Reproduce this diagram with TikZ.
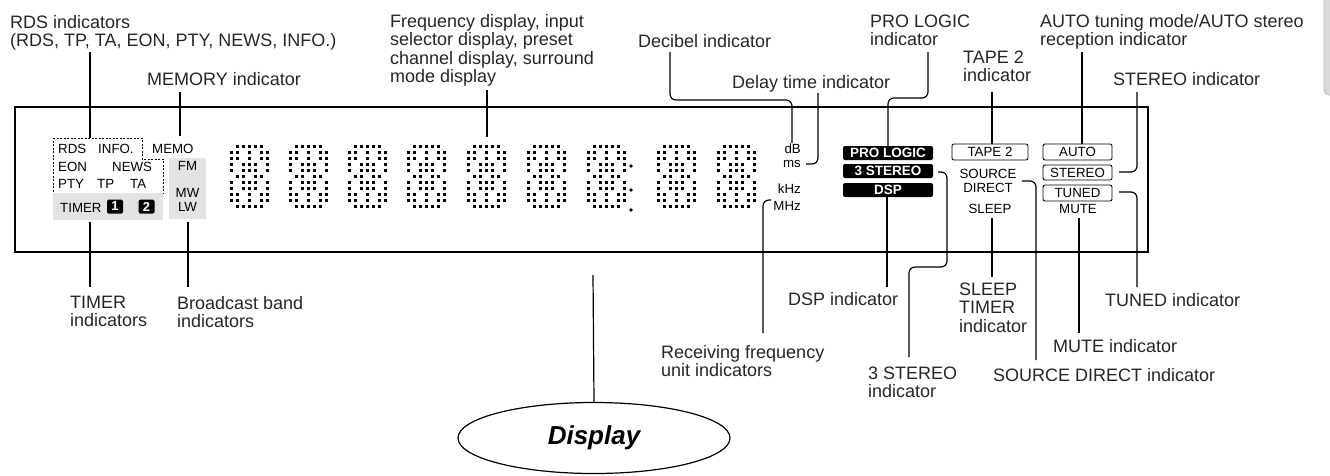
\documentclass[tikz,border=0pt]{standalone}
\usepackage{fontspec}
\setmainfont{Liberation Sans}
\usetikzlibrary{shapes.geometric}
\begin{document}
\begin{tikzpicture}[x=1pt,y=-1pt,
  lbl/.style={anchor=base west, inner sep=0pt, align=left, font=\fontsize{18}{18.5}\selectfont, text=black!85},
  sm/.style={inner sep=0pt, font=\fontsize{13.3}{14}\selectfont},
  badge/.style={fill=black, text=white, rounded corners=2pt, minimum width=90pt, minimum height=14pt, inner sep=0pt, font=\fontsize{13.5}{14}\selectfont\bfseries},
  obox/.style={draw, rounded corners=2pt, line width=0.9pt, minimum width=69pt, minimum height=16pt, inner sep=0pt, font=\fontsize{13.3}{14}\selectfont},
  numbox/.style={fill=black, text=white, rounded corners=1.5pt, minimum width=16pt, minimum height=14pt, inner sep=0pt, font=\fontsize{13}{13}\selectfont\bfseries},
  lead/.style={line width=1.2pt, rounded corners=6pt},
  dmd/.pic={
    \foreach \r/\cl in {0/{1,2,3,4,5},1/{0,1,3,5,6},2/{0,1,3,5,6},3/{0,2,3,4,6},4/{0,2,3,4,6},5/{1,2,4,5},6/{0,2,3,4,6},7/{0,2,3,4,6},8/{0,1,3,5,6},9/{0,1,3,5,6},10/{1,2,3,4,5}}
      {\foreach \c in \cl {\fill (\c*6-0.3,\r*6-0.3) rectangle ++(3.5,3.5);}}
  }]
\useasboundingbox (0,0) rectangle (1330,475);
% side tab
\filldraw[fill=gray!30, draw=gray!55, line width=0.8pt, rounded corners=5pt] (1324,-10) rectangle (1345,95);

% display frame
\draw[line width=1.2pt] (15,107) rectangle (1148,252);

% RDS block
\draw[dashed, dash pattern=on 2pt off 1.5pt, line width=0.8pt] (53,138) -- (142,138) -- (142,159) -- (163,159) -- (163,193) -- (53,193) -- cycle;
\node[sm, anchor=base west] (rds) at (58,153) {RDS};
\node[sm, anchor=base west] (info) at (98,153) {INFO.};
\node[sm, anchor=base west] (memo) at (152,153) {MEMO};
\node[sm, anchor=base west] (eon) at (58,171) {EON};
\node[sm, anchor=base west] (news) at (112,171) {NEWS};
\node[sm, anchor=base west] (pty) at (58,188) {PTY};
\node[sm, anchor=base west] (tp) at (97,188) {TP};
\node[sm, anchor=base west] (ta) at (130,188) {TA};
\fill[gray!22] (53,193) rectangle (163,220);
\fill[gray!22] (169,158) rectangle (206,219);
\node[sm, anchor=base west] (timer) at (60,212) {TIMER};
\node[numbox] (t1) at (115,206.5) {1};
\node[numbox] (t2) at (146.5,206.5) {2};
\node[sm, anchor=base] (fm) at (187.5,170) {FM};
\node[sm, anchor=base] (mw) at (187.5,197) {MW};
\node[sm, anchor=base] (lw) at (187.5,211) {LW};

% digits
\foreach \dx in {230,289,348,407,467,527,587,657,717} {\pic at (\dx,145) {dmd};}
\foreach \dy in {166,190,210} {\fill (631,\dy) circle (1.9pt);}

% units
\node[sm, anchor=base east] (db) at (801,153) {dB};
\node[sm, anchor=base east] (ms) at (801,167) {ms};
\node[sm, anchor=base east] (khz) at (801,193) {kHz};
\node[sm, anchor=base east] (mhz) at (801,210) {MHz};

% badges
\node[badge] (pl) at (888,153) {PRO LOGIC};
\node[badge] (st3) at (888,171) {3 STEREO};
\node[badge] (dsp) at (888,190) {DSP};

% outline boxes
\node[obox, minimum width=76pt] (tape) at (990,152) {TAPE 2};
\node[obox] (auto) at (1077.5,152) {AUTO};
\node[obox, minimum height=15pt] (stereo) at (1077.5,172.5) {STEREO};
\node[obox] (tuned) at (1077.5,193) {TUNED};
\node[sm, anchor=base, align=center] (sd) at (988,192) {SOURCE\\DIRECT};
\node[sm, anchor=base] (sleep) at (990,213) {SLEEP};
\node[sm, anchor=base] (mute) at (1078,213) {MUTE};

% labels (anchor = baseline of last line)
\node[lbl] (lrds) at (10,46.5) {RDS indicators\\(RDS, TP, TA, EON, PTY, NEWS, INFO.)};
\node[lbl] (lmemo) at (147,85) {MEMORY indicator};
\node[lbl] (lfreq) at (390,82.5) {Frequency display, input\\selector display, preset\\channel display, surround\\mode display};
\node[lbl] (ldb) at (638,47) {Decibel indicator};
\node[lbl] (ldelay) at (732,88) {Delay time indicator};
\node[lbl] (lpl) at (870,45.5) {PRO LOGIC\\indicator};
\node[lbl] (ltape) at (963,81.5) {TAPE 2\\indicator};
\node[lbl] (lauto) at (1040,45.5) {AUTO tuning mode/AUTO stereo\\reception indicator};
\node[lbl] (lst) at (1113,85) {STEREO indicator};
\node[lbl] (ltimer) at (70,326.5) {TIMER\\indicators};
\node[lbl] (lbb) at (177,327.5) {Broadcast band\\indicators};
\node[lbl] (lrf) at (661,376.5) {Receiving frequency\\unit indicators};
\node[lbl] (ldsp) at (788,305) {DSP indicator};
\node[lbl] (l3st) at (868,397.5) {3 STEREO\\indicator};
\node[lbl] (lsleep) at (959,332) {SLEEP\\TIMER\\indicator};
\node[lbl] (ltuned) at (1105,306) {TUNED indicator};
\node[lbl] (lmute) at (1053,352) {MUTE indicator};
\node[lbl] (lsd) at (993,381) {SOURCE DIRECT indicator};

% Display ellipse
\node[draw, line width=1.2pt, ellipse, minimum width=272pt, minimum height=71pt, inner sep=0pt, font=\fontsize{26}{26}\selectfont\bfseries\itshape] (disp) at (594,438) {Display};
\coordinate (dtop) at (593,275);

% leaders
\draw[lead] (90,52) -- (90,138);
\draw[lead] (180,92) -- (180,136);
\draw[lead] (487,90) -- (487,137);
\draw[lead] (670,52) -- (670,100) -- (792,100) -- (792,143);
\draw[lead] (818,93) -- (818,164) -- (806,164);
\draw[lead] (928,52) -- (928,98) -- (888,98) -- (888,146);
\draw[lead] (992,92) -- (992,144);
\draw[lead] (1082,52) -- (1082,144);
\draw[lead] (1137,92) -- (1137,172) -- (1119,172);
\draw[lead] (1119,192) -- (1137,192) -- (1137,287);
\draw[lead] (1079,218) -- (1079,333);
\draw[lead] (1022,181) -- (1036,181) -- (1036,360);
\draw[lead] (992,218) -- (992,277);
\draw[lead] (938,172) -- (947,172) -- (947,267) -- (909,267) -- (909,357);
\draw[lead] (887,197) -- (887,287);
\draw[lead] (771,200) -- (763,200) -- (763,333);
\draw[lead] (dtop) -- (disp.north);
\draw[lead] (90,222) -- (90,287);
\draw[lead] (188,222) -- (188,287);
\end{tikzpicture}
\end{document}
